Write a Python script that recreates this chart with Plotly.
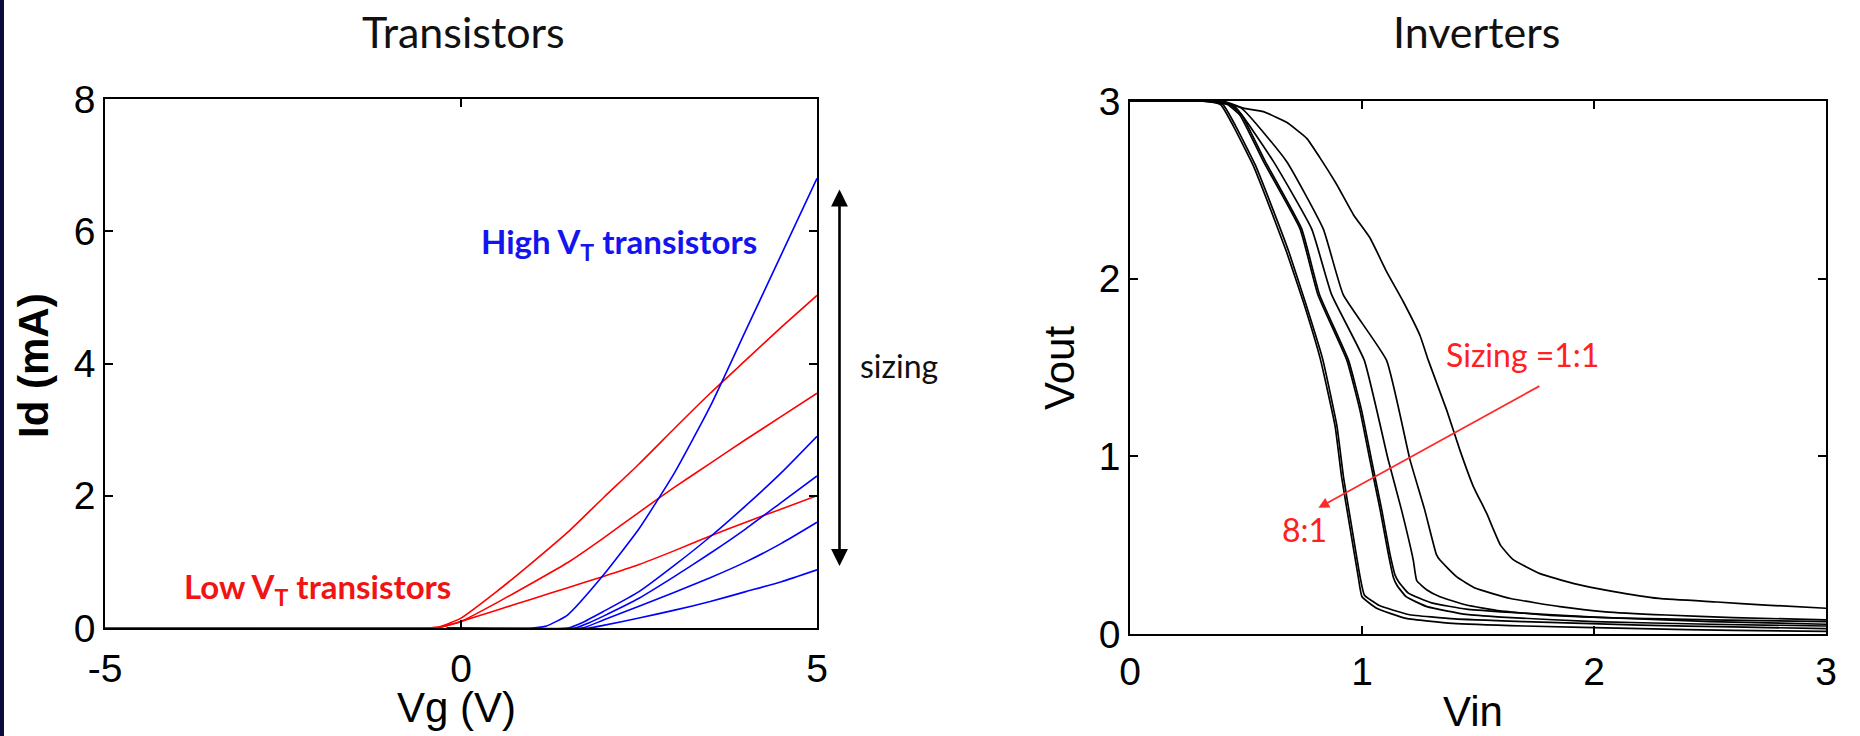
import plotly.graph_objects as go

W, H = 1860, 736

# ---------------- Left panel: transistors ----------------
vg_red = [-5, -0.5, -0.3, 0, 0.5, 1, 1.5, 2, 2.5, 3, 3.5, 4, 4.5, 5]
red_1 = [0, 0, 0.02, 0.15, 0.55, 0.99, 1.45, 1.97, 2.48, 3.02, 3.55, 4.05, 4.55, 5.03]
red_2 = [0, 0, 0.01, 0.10, 0.38, 0.68, 0.99, 1.36, 1.75, 2.13, 2.49, 2.85, 3.20, 3.55]
red_3 = [0, 0, 0.01, 0.10, 0.27, 0.44, 0.61, 0.78, 0.96, 1.17, 1.39, 1.60, 1.80, 2.00]

blue_1_x = [-0.2, 1.0, 1.2, 1.5, 2.0, 2.5, 3.0, 3.5, 4.0, 4.5, 5.0]
blue_1_y = [0, 0, 0.03, 0.2, 0.8, 1.5, 2.35, 3.35, 4.5, 5.65, 6.8]
blue_2_x = [-0.2, 1.5, 1.7, 2.0, 2.5, 3.0, 3.5, 4.0, 4.5, 5.0]
blue_2_y = [0, 0, 0.08, 0.25, 0.55, 0.95, 1.38, 1.85, 2.35, 2.9]
blue_3_x = [-0.2, 1.6, 1.8, 2.0, 2.5, 3.0, 3.5, 4.0, 4.5, 5.0]
blue_3_y = [0, 0, 0.08, 0.18, 0.45, 0.78, 1.13, 1.5, 1.9, 2.3]
blue_4_x = [-0.2, 1.7, 2.0, 2.5, 3.0, 3.5, 4.0, 4.5, 5.0]
blue_4_y = [0, 0, 0.12, 0.33, 0.54, 0.76, 1.0, 1.28, 1.6]
blue_5_x = [-0.2, 1.8, 2.0, 2.5, 3.0, 3.5, 4.0, 4.5, 5.0]
blue_5_y = [0, 0, 0.04, 0.15, 0.27, 0.40, 0.55, 0.70, 0.88]

left_xticks = [-5, 0, 5]
left_xticklabels = ["-5", "0", "5"]
left_yticks = [0, 2, 4, 6, 8]

# ---------------- Right panel: inverters ----------------
inv_A_x = [0.0, 0.30, 0.39, 0.445, 0.53, 0.60, 0.675, 0.747, 0.82, 0.884, 0.912, 0.948, 0.984, 1.0, 1.063, 1.19, 1.39, 1.7, 2.2, 2.6, 3.0]
inv_A_y = [3.0, 3.0, 2.98, 2.86, 2.64, 2.41, 2.15, 1.87, 1.55, 1.17, 0.885, 0.60, 0.32, 0.21, 0.145, 0.088, 0.06, 0.045, 0.03, 0.02, 0.015]
inv_A2_x = [0.0, 0.31, 0.40, 0.455, 0.54, 0.61, 0.685, 0.755, 0.83, 0.892, 0.92, 0.956, 0.992, 1.01, 1.075, 1.2, 1.4, 1.7, 2.2, 2.6, 3.0]
inv_A2_y = [3.0, 3.0, 2.98, 2.86, 2.64, 2.41, 2.15, 1.87, 1.55, 1.17, 0.885, 0.60, 0.32, 0.22, 0.16, 0.11, 0.085, 0.07, 0.05, 0.04, 0.03]
inv_B_x = [0.0, 0.33, 0.42, 0.474, 0.575, 0.733, 0.81, 0.935, 0.991, 1.034, 1.078, 1.113, 1.135, 1.15, 1.19, 1.28, 1.45, 1.6, 2.0, 2.5, 3.0]
inv_B_y = [3.0, 3.0, 2.98, 2.92, 2.66, 2.28, 1.91, 1.54, 1.26, 0.98, 0.70, 0.454, 0.32, 0.276, 0.21, 0.154, 0.11, 0.095, 0.07, 0.055, 0.045]
inv_B2_x = [0.0, 0.34, 0.43, 0.482, 0.583, 0.74, 0.817, 0.942, 0.998, 1.041, 1.085, 1.12, 1.143, 1.16, 1.2, 1.3, 1.45, 1.6, 2.0, 2.5, 3.0]
inv_B2_y = [3.0, 3.0, 2.98, 2.92, 2.66, 2.28, 1.91, 1.54, 1.26, 0.98, 0.70, 0.454, 0.33, 0.29, 0.23, 0.175, 0.14, 0.125, 0.095, 0.07, 0.055]
inv_C_x = [0.0, 0.35, 0.45, 0.618, 0.783, 0.869, 1.01, 1.113, 1.17, 1.221, 1.236, 1.28, 1.336, 1.45, 1.595, 1.81, 2.1, 2.5, 3.0]
inv_C_y = [3.0, 3.0, 2.97, 2.66, 2.28, 1.91, 1.54, 0.98, 0.70, 0.416, 0.30, 0.248, 0.21, 0.163, 0.13, 0.105, 0.09, 0.08, 0.07]
inv_D_x = [0.0, 0.37, 0.48, 0.675, 0.833, 0.919, 1.106, 1.207, 1.27, 1.32, 1.336, 1.41, 1.49, 1.64, 1.853, 2.05, 2.31, 2.6, 3.0]
inv_D_y = [3.0, 3.0, 2.96, 2.66, 2.28, 1.91, 1.54, 0.98, 0.70, 0.45, 0.416, 0.32, 0.257, 0.20, 0.154, 0.125, 0.107, 0.092, 0.08]
inv_E_x = [0.0, 0.40, 0.488, 0.575, 0.675, 0.762, 0.819, 0.891, 0.963, 1.034, 1.106, 1.178, 1.25, 1.286, 1.365, 1.422, 1.48, 1.537, 1.597, 1.65, 1.767, 1.91, 2.08, 2.28, 2.53, 2.74, 3.0]
inv_E_y = [3.0, 3.0, 2.96, 2.94, 2.88, 2.79, 2.68, 2.53, 2.36, 2.23, 2.04, 1.87, 1.68, 1.54, 1.26, 1.035, 0.83, 0.68, 0.50, 0.42, 0.34, 0.285, 0.24, 0.20, 0.18, 0.163, 0.145]

right_ticks = [0, 1, 2, 3]

RED = "#ff0000"
BLUE = "#0000ff"

fig = go.Figure()

for y in [red_1, red_2, red_3]:
    fig.add_trace(go.Scatter(x=vg_red, y=y, mode="lines",
                             line=dict(color=RED, width=1.6, shape="spline", smoothing=0.5),
                             xaxis="x", yaxis="y", showlegend=False, hoverinfo="skip"))
for bx, by in [(blue_1_x, blue_1_y), (blue_2_x, blue_2_y), (blue_3_x, blue_3_y),
               (blue_4_x, blue_4_y), (blue_5_x, blue_5_y)]:
    fig.add_trace(go.Scatter(x=bx, y=by, mode="lines",
                             line=dict(color=BLUE, width=1.6, shape="spline", smoothing=0.5),
                             xaxis="x", yaxis="y", showlegend=False, hoverinfo="skip"))

for ix, iy in [(inv_A_x, inv_A_y), (inv_A2_x, inv_A2_y), (inv_B_x, inv_B_y), (inv_B2_x, inv_B2_y),
               (inv_C_x, inv_C_y), (inv_D_x, inv_D_y), (inv_E_x, inv_E_y)]:
    fig.add_trace(go.Scatter(x=ix, y=iy, mode="lines",
                             line=dict(color="black", width=1.7, shape="spline", smoothing=0.4),
                             xaxis="x2", yaxis="y2", showlegend=False, hoverinfo="skip"))

TICKFONT = dict(family="Liberation Sans, Arial, sans-serif", size=39, color="black")
axis_common = dict(ticks="inside", ticklen=8, tickwidth=1.5, tickcolor="black",
                   showline=True, linecolor="black", linewidth=1.5, mirror="ticks",
                   showgrid=False, zeroline=False, tickfont=TICKFONT, automargin=False)

def px(x):
    return x / W

def py(y):
    return 1 - y / H

fig.update_layout(
    width=W, height=H, autosize=False,
    margin=dict(l=0, r=0, t=0, b=0, pad=0, autoexpand=False),
    paper_bgcolor="white", plot_bgcolor="white",
    xaxis=dict(domain=[px(105), px(817)], range=[-5, 5], tickvals=left_xticks, ticktext=left_xticklabels,
               anchor="y", ticklabelstandoff=5, **axis_common),
    yaxis=dict(domain=[py(628), py(99)], range=[0, 8], tickvals=left_yticks,
               anchor="x", ticklabelstandoff=0, **axis_common),
    xaxis2=dict(domain=[px(1130), px(1826)], range=[0, 3], tickvals=right_ticks,
                anchor="y2", ticklabelstandoff=2, **axis_common),
    yaxis2=dict(domain=[py(634), py(101)], range=[0, 3], tickvals=right_ticks,
                anchor="x2", ticklabelstandoff=0, **axis_common),
)

LABELFONT = dict(family="Liberation Sans, Arial, sans-serif", size=42, color="black")
TITLEFONT = dict(family="Lato, sans-serif", size=43, color="#111111")
ANNFONT = "Lato, sans-serif"

anns = [
    dict(text="Transistors", x=px(463), y=py(32), font=TITLEFONT),
    dict(text="Inverters", x=px(1476), y=py(32), font=TITLEFONT),
    dict(text="Vg (V)", x=px(456), y=py(707), font=LABELFONT),
    dict(text="Vin", x=px(1473), y=py(711), font=LABELFONT),
    dict(text="<b>Id (mA)</b>", x=px(34), y=py(366), font=LABELFONT, textangle=-90),
    dict(text="Vout", x=px(1059), y=py(368), font=LABELFONT, textangle=-90),
    dict(text="<b>High V<sub>T</sub> transistors</b>", x=px(619), y=py(243),
         font=dict(family=ANNFONT, size=33, color="#1414f0")),
    dict(text="<b>Low V<sub>T</sub> transistors</b>", x=px(317), y=py(588),
         font=dict(family=ANNFONT, size=33, color="#f01414")),
    dict(text="sizing", x=px(858), y=py(366), xanchor="left",
         font=dict(family=ANNFONT, size=32, color="#111111")),
    dict(text="Sizing =1:1", x=1.69, y=1.576, xref="x2", yref="y2",
         font=dict(family=ANNFONT, size=32, color="#ff2020")),
    dict(text="8:1", x=0.754, y=0.588, xref="x2", yref="y2",
         font=dict(family=ANNFONT, size=32, color="#ff2020")),
]
for a in anns:
    a.setdefault("xref", "paper")
    a.setdefault("yref", "paper")
    a.setdefault("xanchor", "center")
    a.setdefault("yanchor", "middle")
    a["showarrow"] = False
    fig.add_annotation(**a)

# double-headed sizing arrow
fig.add_annotation(x=px(839.5), y=py(566), xref="paper", yref="paper",
                   ax=0, ay=-(566 - 188), axref="pixel", ayref="pixel",
                   text="", showarrow=True, arrowhead=2, startarrowhead=2, arrowside="end+start",
                   arrowsize=1.3, startarrowsize=1.3, arrowwidth=2.6, arrowcolor="black")
# red arrow on inverter panel
fig.add_annotation(x=0.812, y=0.71, xref="x2", yref="y2",
                   ax=1.771, ay=1.40, axref="x2", ayref="y2",
                   text="", showarrow=True, arrowhead=2, arrowsize=1.2, arrowwidth=1.8,
                   arrowcolor="#ff2a2a")

# dark slide border on the left edge
fig.add_shape(type="rect", xref="paper", yref="paper", x0=0, x1=px(4), y0=0, y1=1,
              fillcolor="#0c0c3c", line=dict(width=0), layer="above")

fig.write_html(
    "out.html",
    config={"responsive": False, "displayModeBar": False},
    post_script="document.body.style.margin='0';document.body.style.padding='0';"
                "document.documentElement.style.overflow='hidden';",
)
